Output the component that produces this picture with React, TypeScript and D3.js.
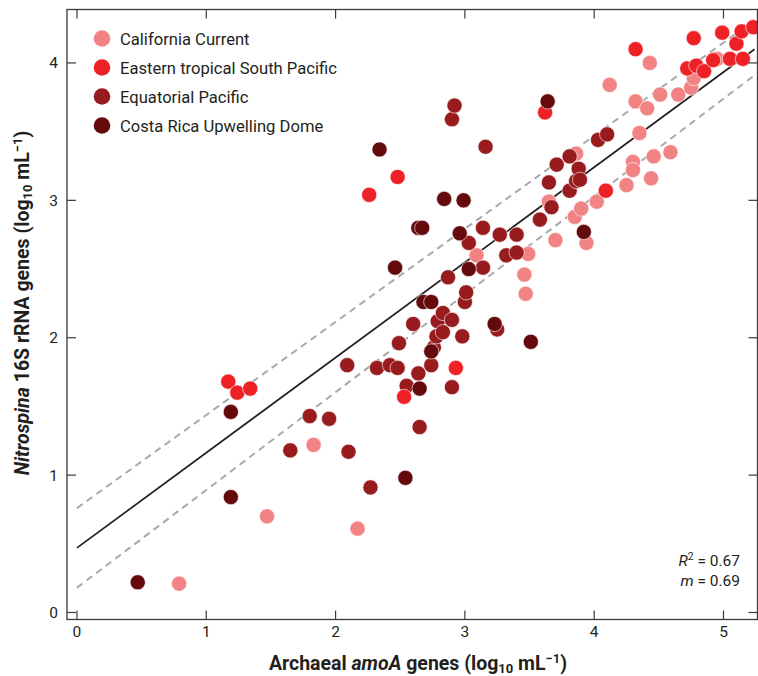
import React from "react";
import * as d3 from "d3";

// values (log10 mL^-1)
const californiaX = [0.79, 1.47, 1.83, 2.17, 3.09, 3.46, 3.47, 3.49, 3.65, 3.70, 3.85, 3.86, 3.90, 3.94, 4.02, 4.12, 4.25, 4.30, 4.30, 4.32, 4.35, 4.41, 4.43, 4.44, 4.46, 4.51, 4.59, 4.65, 4.75, 4.77, 4.95];
const californiaY = [0.21, 0.70, 1.22, 0.61, 2.60, 2.46, 2.32, 2.61, 2.99, 2.71, 2.88, 3.34, 2.94, 2.69, 2.99, 3.84, 3.11, 3.28, 3.22, 3.72, 3.49, 3.67, 4.00, 3.16, 3.32, 3.77, 3.35, 3.77, 3.82, 3.89, 4.03];

const etspX = [1.17, 1.24, 1.34, 2.26, 2.48, 2.53, 2.93, 3.62, 4.09, 4.32, 4.72, 4.77, 4.79, 4.85, 4.92, 4.99, 5.05, 5.10, 5.14, 5.15, 5.23];
const etspY = [1.68, 1.60, 1.63, 3.04, 3.17, 1.57, 1.78, 3.64, 3.07, 4.10, 3.96, 4.18, 3.98, 3.94, 4.02, 4.22, 4.03, 4.14, 4.23, 4.03, 4.26];

const equatorialX = [1.65, 1.80, 1.95, 2.09, 2.10, 2.27, 2.32, 2.42, 2.48, 2.49, 2.55, 2.60, 2.64, 2.65, 2.74, 2.76, 2.78, 2.79, 2.83, 2.83, 2.87, 2.90, 2.90, 2.90, 2.92, 2.98, 3.00, 3.01, 3.03, 3.14, 3.14, 3.16, 3.25, 3.27, 3.32, 3.40, 3.40, 3.58, 3.65, 3.67, 3.71, 3.81, 3.81, 3.86, 3.88, 3.89, 4.03, 4.10];
const equatorialY = [1.18, 1.43, 1.41, 1.80, 1.17, 0.91, 1.78, 1.80, 1.78, 1.96, 1.65, 2.10, 1.74, 1.35, 1.80, 1.93, 2.01, 2.12, 2.18, 2.04, 2.44, 2.13, 1.64, 3.59, 3.69, 2.01, 2.26, 2.33, 2.69, 2.80, 2.51, 3.39, 2.06, 2.75, 2.60, 2.75, 2.62, 2.86, 3.13, 2.95, 3.26, 3.07, 3.32, 3.14, 3.23, 3.15, 3.44, 3.48];

const costaRicaX = [0.47, 1.19, 1.19, 2.34, 2.46, 2.54, 2.64, 2.67, 2.65, 2.68, 2.74, 2.74, 2.84, 2.96, 2.99, 3.03, 3.23, 3.51, 3.64, 3.92];
const costaRicaY = [0.22, 0.84, 1.46, 3.37, 2.51, 0.98, 2.80, 2.80, 1.63, 2.26, 2.26, 1.90, 3.01, 2.76, 3.00, 2.50, 2.10, 1.97, 3.72, 2.77];

const regionNames = ["California Current", "Eastern tropical South Pacific", "Equatorial Pacific", "Costa Rica Upwelling Dome"];
const regionColors = ["#f28385", "#ee2226", "#981b1e", "#640a0c"];

// regression line and its band, at x = 0 and at the right end
const fitX = [0, 5.24];
const fitY = [0.47, 4.1];
const upperY = [0.76, 4.31];
const lowerY = [0.18, 3.91];

const xTicks = [0, 1, 2, 3, 4, 5];
const yTicks = [0, 1, 2, 3, 4];

const W = 758;
const H = 676;
const frame = { left: 67, right: 757.5, top: 9.5, bottom: 619.5 };

export default function App() {
  const x = d3.scaleLinear().domain([-0.077, 5.263]).range([frame.left, frame.right]);
  const y = d3.scaleLinear().domain([-0.051, 4.389]).range([frame.bottom, frame.top]);

  const line = d3
    .line<[number, number]>()
    .x((d) => x(d[0]))
    .y((d) => y(d[1]));

  // drawing order follows the figure: darker groups sit on top
  const series = [
    { xs: californiaX, ys: californiaY, color: regionColors[0] },
    { xs: equatorialX, ys: equatorialY, color: regionColors[2] },
    { xs: etspX, ys: etspY, color: regionColors[1] },
    { xs: costaRicaX, ys: costaRicaY, color: regionColors[3] },
  ];

  const font = "Roboto, 'Open Sans', sans-serif";
  const ink = "#231f20";
  const tick = 9;

  return (
    <svg
      width={W}
      height={H}
      style={{ position: "absolute", left: 0, top: 0, display: "block" }}
      fontFamily={font}
    >
      <rect width={W} height={H} fill="#fff" />

      {/* band and fit */}
      <path d={line(fitX.map((v, i) => [v, upperY[i]]) as any) || ""} stroke="#a7a9ac" strokeWidth={2} strokeDasharray="7,5" fill="none" />
      <path d={line(fitX.map((v, i) => [v, lowerY[i]]) as any) || ""} stroke="#a7a9ac" strokeWidth={2} strokeDasharray="7,5" fill="none" />
      <path d={line(fitX.map((v, i) => [v, fitY[i]]) as any) || ""} stroke={ink} strokeWidth={1.7} fill="none" />

      {/* points */}
      {series.map((s, si) => (
        <g key={si}>
          {s.xs.map((v, i) => (
            <circle key={i} cx={x(v)} cy={y(s.ys[i])} r={7.6} fill={s.color} stroke="#fff" strokeWidth={0.6} />
          ))}
        </g>
      ))}

      {/* frame */}
      <rect
        x={frame.left}
        y={frame.top}
        width={frame.right - frame.left}
        height={frame.bottom - frame.top}
        fill="none"
        stroke="#3a3a3a"
        strokeWidth={1.3}
      />

      {/* x ticks (bottom and top, pointing inward) */}
      {xTicks.map((t) => (
        <g key={"x" + t}>
          <line x1={x(t)} x2={x(t)} y1={frame.bottom} y2={frame.bottom - tick} stroke="#3a3a3a" strokeWidth={1.2} />
          <line x1={x(t)} x2={x(t)} y1={frame.top} y2={frame.top + tick} stroke="#3a3a3a" strokeWidth={1.2} />
          <text x={x(t)} y={637} textAnchor="middle" fontSize={15.5} fill={ink}>
            {t}
          </text>
        </g>
      ))}

      {/* y ticks (left and right) */}
      {yTicks.map((t) => (
        <g key={"y" + t}>
          <line x1={frame.left} x2={frame.left + tick} y1={y(t)} y2={y(t)} stroke="#3a3a3a" strokeWidth={1.2} />
          <line x1={frame.right} x2={frame.right - tick} y1={y(t)} y2={y(t)} stroke="#3a3a3a" strokeWidth={1.2} />
          <text x={58} y={y(t) + 5.5} textAnchor="end" fontSize={15.5} fill={ink}>
            {t}
          </text>
        </g>
      ))}

      {/* legend */}
      {regionNames.map((name, i) => (
        <g key={name} transform={`translate(102, ${38.5 + i * 29})`}>
          <circle r={8.3} fill={regionColors[i]} />
          <text x={18} y={6} fontSize={16.6} fill={ink}>
            {name}
          </text>
        </g>
      ))}

      {/* fit statistics */}
      <text x={740} y={566} textAnchor="end" fontSize={15.5} fill={ink}>
        <tspan fontStyle="italic">R</tspan>
        <tspan dy={-6} fontSize={10.5}>2</tspan>
        <tspan dy={6}> = 0.67</tspan>
      </text>
      <text x={740} y={586} textAnchor="end" fontSize={15.5} fill={ink}>
        <tspan fontStyle="italic">m</tspan>
        <tspan> = 0.69</tspan>
      </text>

      {/* axis titles */}
      <text x={418} y={670} textAnchor="middle" fontSize={19.5} fontWeight="bold" fill={ink}>
        <tspan>Archaeal </tspan>
        <tspan fontStyle="italic">amoA</tspan>
        <tspan> genes (log</tspan>
        <tspan dy={3} fontSize={13}>10</tspan>
        <tspan dy={-3}> mL</tspan>
        <tspan dy={-7} fontSize={13}>−1</tspan>
        <tspan dy={7}>)</tspan>
      </text>
      <text
        transform={`translate(29, 303) rotate(-90)`}
        textAnchor="middle"
        fontSize={19.5}
        fontWeight="bold"
        fill={ink}
      >
        <tspan fontStyle="italic">Nitrospina</tspan>
        <tspan> 16S rRNA genes (log</tspan>
        <tspan dy={3} fontSize={13}>10</tspan>
        <tspan dy={-3}> mL</tspan>
        <tspan dy={-7} fontSize={13}>−1</tspan>
        <tspan dy={7}>)</tspan>
      </text>
    </svg>
  );
}
